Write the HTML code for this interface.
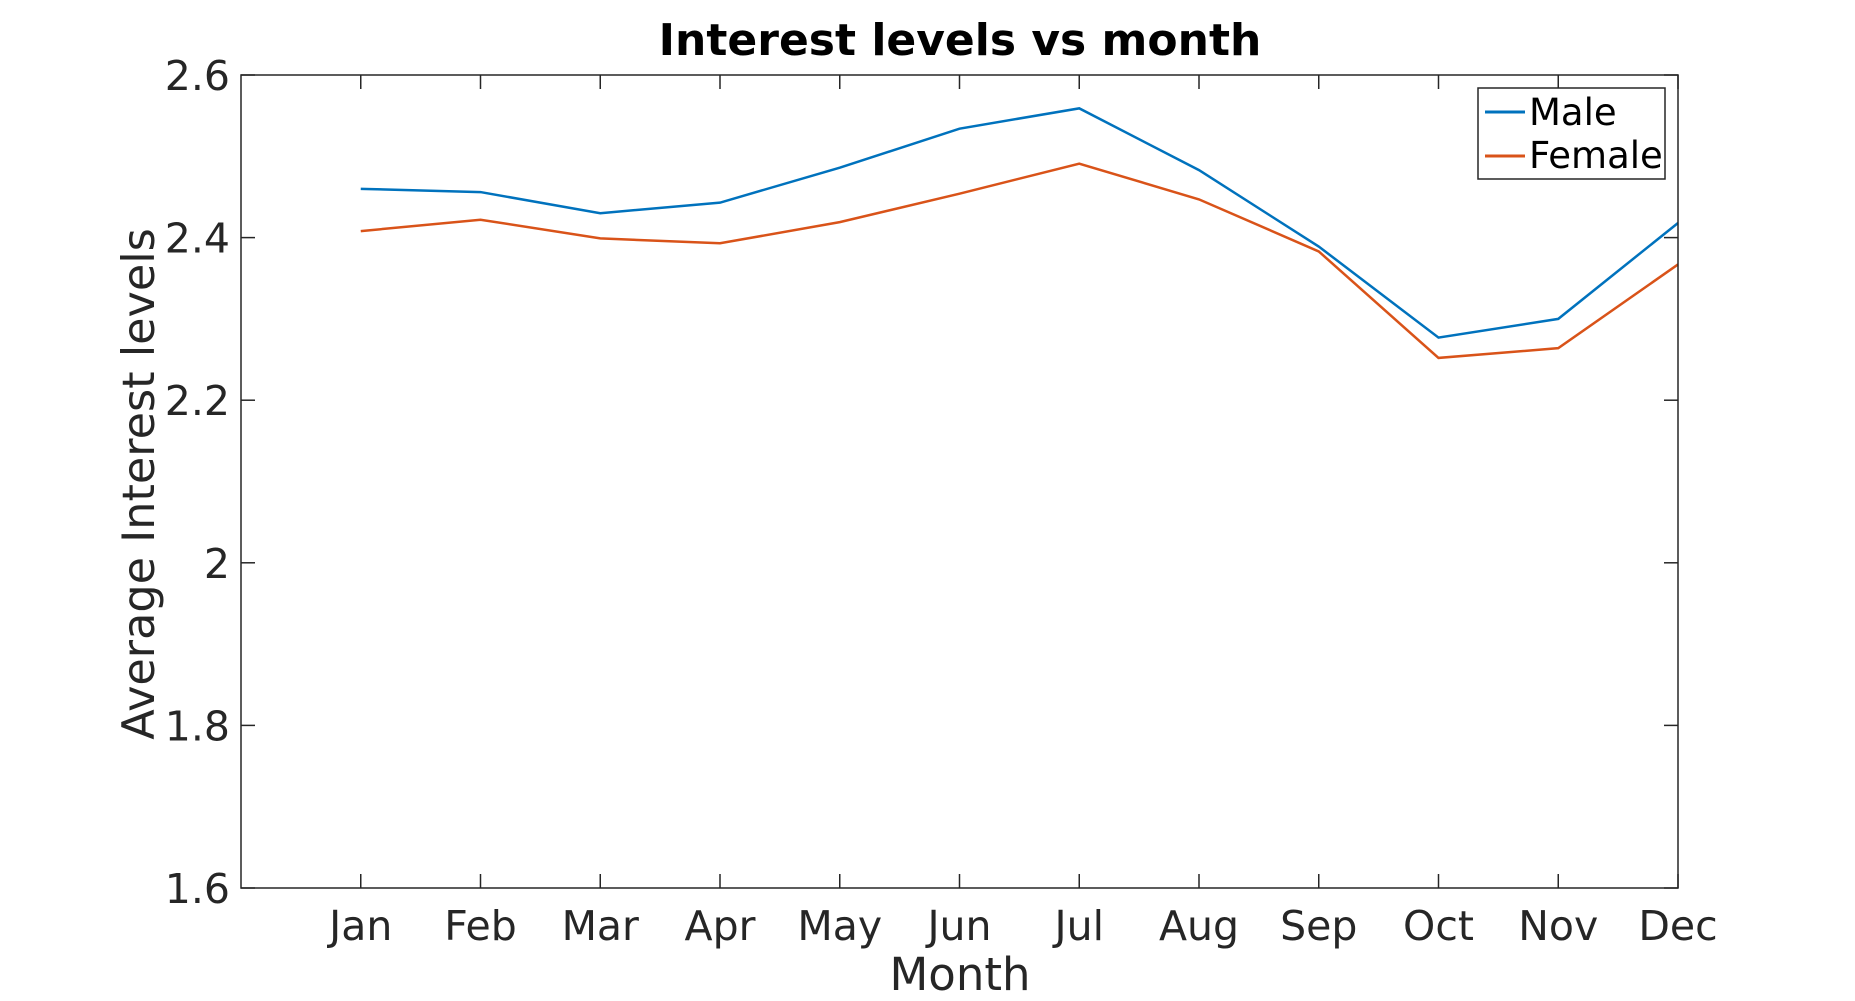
<!DOCTYPE html>
<html><head><meta charset="utf-8"><style>
html,body{margin:0;padding:0;background:#fff;}
svg{display:block;font-family:"DejaVu Sans","Liberation Sans",sans-serif;}
</style></head><body>
<svg id="chart" width="1855" height="1001" xmlns="http://www.w3.org/2000/svg">
<rect x="0" y="0" width="1855" height="1001" fill="#fff"/>
<text x="960" y="55" text-anchor="middle" font-size="44" font-weight="bold" fill="#000">Interest levels vs month</text>
<g id="ticks"></g>
<g id="series"></g>
<rect x="241" y="75" width="1437" height="813" fill="none" stroke="#262626" stroke-width="1.5"/>
<text x="960" y="990" text-anchor="middle" font-size="45" fill="#262626">Month</text>
<text transform="translate(154,484) rotate(-90)" text-anchor="middle" font-size="44.5" fill="#262626">Average Interest levels</text>
<g>
<rect x="1478" y="88" width="187" height="91" fill="#fff" stroke="#262626" stroke-width="1.5"/>
<line x1="1485" y1="112" x2="1525" y2="112" stroke="#0072BD" stroke-width="3"/>
<text x="1529" y="125" font-size="37" fill="#000">Male</text>
<line x1="1485" y1="156" x2="1525" y2="156" stroke="#D95319" stroke-width="3"/>
<text x="1529" y="168" font-size="37" fill="#000">Female</text>
</g>
</svg>
<script>
const months = ["Jan","Feb","Mar","Apr","May","Jun","Jul","Aug","Sep","Oct","Nov","Dec"];
const maleValues = [2.460,2.456,2.430,2.443,2.486,2.534,2.559,2.483,2.389,2.277,2.300,2.418];
const femaleValues = [2.408,2.422,2.399,2.393,2.419,2.454,2.491,2.447,2.383,2.252,2.264,2.367];
const yTicks = [1.6,1.8,2.0,2.2,2.4,2.6];
const yTickLabels = ["1.6","1.8","2","2.2","2.4","2.6"];

const L=241,R=1678,T=75,B=888;
const xMin=0,xMax=12,yMin=1.6,yMax=2.6;
function xs(i){return L+(i+1-xMin)/(xMax-xMin)*(R-L);}
function ys(v){return B-(v-yMin)/(yMax-yMin)*(B-T);}
const NS="http://www.w3.org/2000/svg";
const tg=document.getElementById('ticks');
function mk(tag,attrs,parent){const e=document.createElementNS(NS,tag);for(const k in attrs)e.setAttribute(k,attrs[k]);parent.appendChild(e);return e;}
months.forEach((m,i)=>{
  const x=xs(i);
  let t=mk('line',{x1:x,y1:B,x2:x,y2:B-14,stroke:'#262626','stroke-width':1.5},tg);
  
  
  t=mk('line',{x1:x,y1:T,x2:x,y2:T+14,stroke:'#262626','stroke-width':1.5},tg);
  
  
  const lb=mk('text',{x:x,y:940,'text-anchor':'middle','font-size':41,fill:'#262626'},tg);
  lb.textContent=m;
  
  
});
yTicks.forEach((v,i)=>{
  const y=ys(v);
  let t=mk('line',{x1:L,y1:y,x2:L+14,y2:y,stroke:'#262626','stroke-width':1.5},tg);
  
  
  t=mk('line',{x1:R,y1:y,x2:R-14,y2:y,stroke:'#262626','stroke-width':1.5},tg);
  
  
  const lb=mk('text',{x:230,y:y+15,'text-anchor':'end','font-size':41,fill:'#262626'},tg);
  lb.textContent=yTickLabels[i];
  
  
});
const sg=document.getElementById('series');
function drawLine(vals,color,name){
  const pts=vals.map((v,i)=>xs(i)+','+ys(v)).join(' ');
  const p=mk('polyline',{points:pts,fill:'none',stroke:color,'stroke-width':2.5},sg);
  
  
}
drawLine(maleValues,'#0072BD','male-line');
drawLine(femaleValues,'#D95319','female-line');
</script>
</body></html>
